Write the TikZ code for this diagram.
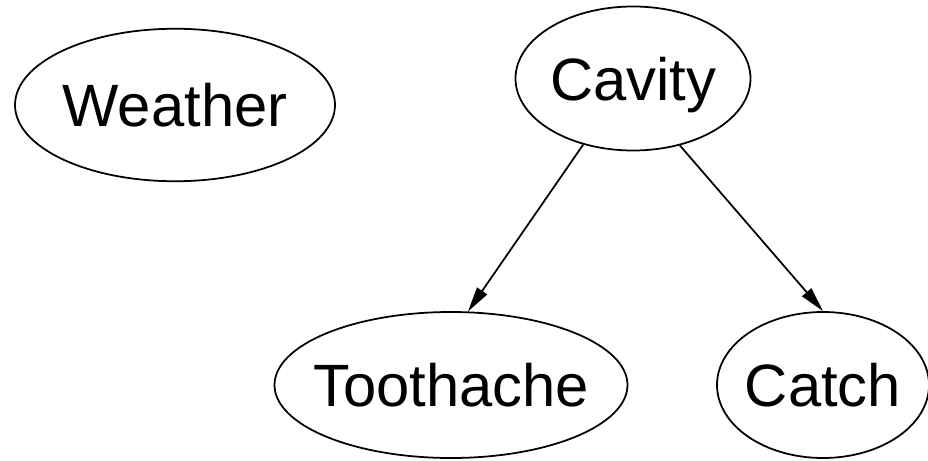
\documentclass[tikz,border=0pt]{standalone}
\usepackage{fontspec}
\setmainfont{Liberation Sans}
\usetikzlibrary{shapes.geometric,arrows.meta}
\newcommand{\lbl}[1]{\makebox[0pt]{\raisebox{-0.5\height}{#1}}}
\begin{document}
\begin{tikzpicture}[var/.style={draw,ellipse,line width=1pt,inner sep=0pt,
            text height=0pt,text depth=0pt,font=\fontsize{34}{34}\selectfont},
            edge/.style={line width=1pt,-{Triangle[length=0.5cm,width=0.24cm]}}]
             \useasboundingbox (0,0) rectangle (18.56,9.2);
             \node[var,minimum width=6.4cm,minimum height=3.05cm]  (weather)   at (3.5,7.1)   {\lbl{Weather}};
             \node[var,minimum width=4.7cm,minimum height=2.88cm]  (cavity)    at (12.66,7.63) {\lbl{Cavity}};
             \node[var,minimum width=7.06cm,minimum height=2.92cm] (toothache) at (9.02,1.5)  {\lbl{Toothache}};
             \node[var,minimum width=4.24cm,minimum height=2.92cm] (catch)     at (16.46,1.5) {\lbl{Catch}};
             % arcs
             \draw[edge] (cavity.-127) -- (toothache.77);
             \draw[edge] (cavity.-55)  -- (catch.90);
        \end{tikzpicture}
\end{document}
